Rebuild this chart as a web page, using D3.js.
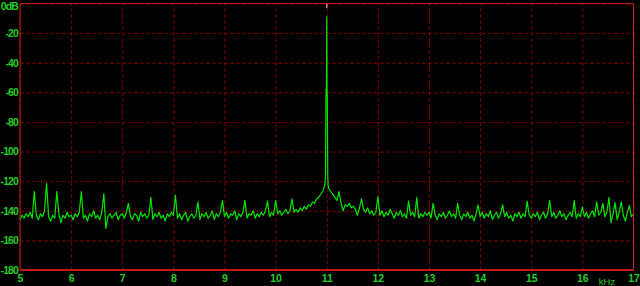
<!DOCTYPE html>
<html><head><meta charset="utf-8">
<script src="https://cdn.jsdelivr.net/npm/d3@7"></script>
<style>html,body{margin:0;padding:0;background:#000;overflow:hidden}</style>
</head><body><svg id="c" width="640" height="286"></svg>
<script>
// FFT bins: start frequency (kHz) and bin spacing (kHz)
const freqStart = 5, freqStep = 0.04;
// levels in dB, one per bin (5.00 .. 17.00 kHz)
const levels = [
-146,-143,-145,-142,-144,-141,-145,-127,-143,-146,-142,-144,-140,-121.5,-144,-147,-143,-145,-127,-142,-148,-143,-145,-141,-144,
-143,-146,-142,-144,-141,-127,-145,-143,-147,-142,-144,-140,-145,-143,-146,-141,-128.5,-152,-144,-142,-145,-143,-141,-146,-143,
-142,-145,-141,-135,-144,-146,-142,-143,-147,-141,-144,-142,-145,-143,-131,-146,-142,-144,-141,-145,-143,-147,-142,-144,-141,
-143,-129.5,-145,-142,-146,-143,-141,-147,-144,-142,-145,-143,-134,-146,-142,-144,-141,-145,-143,-140,-146,-142,-144,-141,-133,
-144,-141,-145,-142,-143,-140,-146,-142,-144,-141,-133,-145,-142,-143,-140,-145,-142,-144,-141,-143,-140,-133.5,-144,-141,-143,
-133,-142,-140,-143,-141,-139,-142,-140,-132,-141,-139,-141,-138,-140,-137,-139,-136,-137,-134,-135,-132,-131,-129,-127,-123,
-9,-125,-127,-129,-131,-133,-127,-135,-140,-136,-137,-135,-138,-137,-139,-143,-138,-132,-139,-141,-138,-142,-140,-143,-141,
-130.5,-143,-140,-144,-141,-143,-139,-142,-145,-141,-143,-140,-144,-142,-145,-133.5,-143,-141,-144,-131,-145,-142,-144,-141,-143,
-141,-145,-135,-143,-146,-142,-144,-141,-145,-143,-140,-144,-142,-145,-135,-143,-146,-142,-144,-141,-145,-143,-147,-142,-136,
-144,-141,-145,-142,-144,-140,-146,-143,-141,-145,-142,-136,-144,-141,-145,-143,-147,-142,-144,-141,-145,-142,-144,-133.5,-143,
-145,-142,-144,-141,-146,-143,-141,-145,-142,-133,-144,-141,-145,-143,-140,-144,-142,-146,-143,-141,-144,-133,-145,-142,-144,
-137.5,-144,-141,-145,-142,-140,-144,-134,-143,-141,-135,-144,-141,-131,-148,-142,-134.5,-146,-141,-134,-143,-147,-141,-136.5,-144,-142
];
// extra fine points around the 11 kHz tone
const peakFreqs = [10.975, 10.985, 10.99, 10.995, 11.005, 11.01, 11.02, 11.03];
const peakLevels = [-118, -62, -57, -56, -58, -62, -118, -124];
// marker of the fundamental
const markerFreq = 11.0;
const markerLevels = [0, -3];

const yTicks = [0,-20,-40,-60,-80,-100,-120,-140,-160,-180];
const yTickLabels = ["0dB","-20","-40","-60","-80","-100","-120","-140","-160","-180"];
const xTicks = [5,6,7,8,9,10,11,12,13,14,15,16,17];
const xTickLabels = ["5","6","7","8","9","10","11","12","13","14","15","16","17"];
const xUnit = "kHz";

const svg = d3.select("#c");
svg.append("rect").attr("width",640).attr("height",286).attr("fill","#000");
const L = 20, R = 633.5, T = 3.5, B = 270;
const x = d3.scaleLinear().domain([5,17]).range([L,R]);
const y = d3.scaleLinear().domain([-180,0]).range([B,T]);

const gridColor = "#760000";
const textColor = "#22cc22";
const font = "'Liberation Sans', Arial, sans-serif";

// horizontal grid + y labels
const gy = svg.append("g").attr("transform",`translate(${L},0)`)
  .call(d3.axisLeft(y).tickValues(yTicks).tickSize(-(R-L)).tickPadding(2)
    .tickFormat((d,i)=>yTickLabels[i]));
gy.select(".domain").remove();
gy.selectAll(".tick line").attr("stroke",gridColor).attr("stroke-dasharray","4,2");
gy.selectAll(".tick text").attr("fill",textColor).style("font-family",font)
  .style("font-size","10.5px").style("font-weight","bold").style("letter-spacing","-0.9px");
gy.selectAll(".tick text").filter(d=>d===0).attr("dy","0.55em");

// vertical grid + x labels
const gx = svg.append("g").attr("transform",`translate(0,${B})`)
  .call(d3.axisBottom(x).tickValues(xTicks).tickSize(-(B-T)).tickPadding(5)
    .tickFormat((d,i)=>xTickLabels[i]));
gx.select(".domain").remove();
gx.selectAll(".tick line").attr("stroke",gridColor).attr("stroke-dasharray","4,2");
gx.selectAll(".tick text").attr("fill",textColor).style("font-family",font)
  .style("font-size","10.5px").style("font-weight","bold");

svg.append("text").attr("x",607).attr("y",284.5).attr("text-anchor","middle")
  .attr("fill",textColor).style("font-family",font).style("font-size","9.5px").text(xUnit);

// data
const pts = levels.map((v,i)=>({f: freqStart + i*freqStep, v}))
  .concat(peakFreqs.map((f,i)=>({f, v: peakLevels[i]})))
  .sort((a,b)=>a.f-b.f);

const line = d3.line().x(d=>x(d.f)).y(d=>y(d.v));
svg.append("path").datum(pts).attr("d",line)
  .attr("fill","none").attr("stroke","#00e600").attr("stroke-width",1.2).attr("stroke-linejoin","round");

svg.append("line").attr("x1",x(markerFreq)).attr("x2",x(markerFreq))
  .attr("y1",y(markerLevels[0])).attr("y2",y(markerLevels[1]))
  .attr("stroke","#ff7070").attr("stroke-width",1.5);

// borders
const border = "#c41a1a";
svg.append("line").attr("x1",L).attr("x2",L).attr("y1",T).attr("y2",B).attr("stroke",border).attr("stroke-width",1);
svg.append("line").attr("x1",R).attr("x2",R).attr("y1",T).attr("y2",B).attr("stroke",border).attr("stroke-width",1);
svg.append("line").attr("x1",L).attr("x2",R).attr("y1",T).attr("y2",T).attr("stroke",border).attr("stroke-width",1);
svg.append("line").attr("x1",L).attr("x2",R).attr("y1",B).attr("y2",B).attr("stroke",border).attr("stroke-width",2);
</script></body></html>
